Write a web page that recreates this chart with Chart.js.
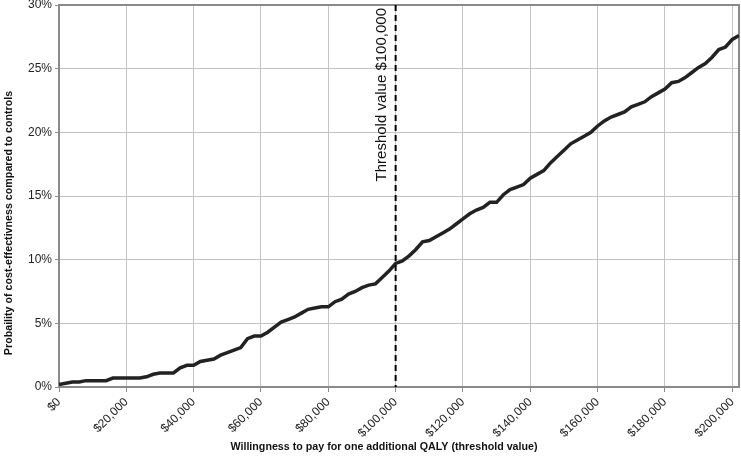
<!DOCTYPE html>
<html>
<head>
<meta charset="utf-8">
<script src="https://cdn.jsdelivr.net/npm/chart.js@4"></script>
<style>
  html, body { margin: 0; padding: 0; background: #fff; }
  #wrap { width: 741px; height: 461px; }
</style>
</head>
<body>
<div id="wrap"><canvas id="ceac"></canvas></div>
<script>
// willingness to pay, every $2,000
var wtp = [];
for (var i = 0; i <= 101; i++) wtp.push(i * 2000);

// probability cost-effective (%)
var probCE = [
  0.2, 0.3, 0.4, 0.4, 0.5, 0.5, 0.5, 0.5, 0.7, 0.7,
  0.7, 0.7, 0.7, 0.8, 1.0, 1.1, 1.1, 1.1, 1.5, 1.7,
  1.7, 2.0, 2.1, 2.2, 2.5, 2.7, 2.9, 3.1, 3.8, 4.0,
  4.0, 4.3, 4.7, 5.1, 5.3, 5.5, 5.8, 6.1, 6.2, 6.3,
  6.3, 6.7, 6.9, 7.3, 7.5, 7.8, 8.0, 8.1, 8.6, 9.1,
  9.7, 9.9, 10.3, 10.8, 11.4, 11.5, 11.8, 12.1, 12.4, 12.8,
  13.2, 13.6, 13.9, 14.1, 14.5, 14.5, 15.1, 15.5, 15.7, 15.9,
  16.4, 16.7, 17.0, 17.6, 18.1, 18.6, 19.1, 19.4, 19.7, 20.0,
  20.5, 20.9, 21.2, 21.4, 21.6, 22.0, 22.2, 22.4, 22.8, 23.1,
  23.4, 23.9, 24.0, 24.3, 24.7, 25.1, 25.4, 25.9, 26.5, 26.7,
  27.3, 27.6
];

// tick positions
var xTicks = [0, 20000, 40000, 60000, 80000, 100000, 120000, 140000, 160000, 180000, 200000];
var yTicks = [0, 5, 10, 15, 20, 25, 30];

var thresholdValue = 100000;
var thresholdLabel = 'Threshold value $100,000';
var xTitle = 'Willingness to pay for one additional QALY (threshold value)';
var yTitle = 'Probaility of cost-effectivness compared to controls';

var FONT = "Arial, 'Liberation Sans', sans-serif";

var points = wtp.map(function (x, i) { return { x: x, y: probCE[i] }; });

// frame, dashed threshold line with its label, axis titles
var thresholdPlugin = {
  id: 'threshold',
  beforeDatasetsDraw: function (chart) {
    var ctx = chart.ctx;
    var a = chart.chartArea;
    ctx.save();
    ctx.strokeStyle = '#8a8a8a';
    ctx.lineWidth = 2;
    ctx.strokeRect(a.left, a.top, a.right - a.left, a.bottom - a.top);
    ctx.restore();
  },
  afterDatasetsDraw: function (chart) {
    var ctx = chart.ctx;
    var a = chart.chartArea;
    var x = chart.scales.x.getPixelForValue(thresholdValue);
    ctx.save();
    ctx.strokeStyle = '#000';
    ctx.lineWidth = 2;
    ctx.setLineDash([6, 4]);
    ctx.beginPath();
    ctx.moveTo(x, a.top);
    ctx.lineTo(x, a.bottom);
    ctx.stroke();
    ctx.setLineDash([]);

    ctx.translate(x - 10, a.top + 3);
    ctx.rotate(-Math.PI / 2);
    ctx.fillStyle = '#111';
    ctx.font = '15px ' + FONT;
    ctx.textAlign = 'right';
    ctx.textBaseline = 'bottom';
    ctx.fillText(thresholdLabel, 0, 4);
    ctx.restore();

    // axis titles
    ctx.save();
    ctx.fillStyle = '#111';
    ctx.font = 'bold 10.7px ' + FONT;
    ctx.textAlign = 'center';
    ctx.textBaseline = 'middle';
    ctx.fillText(xTitle, 384, 447);
    ctx.translate(9, 223);
    ctx.rotate(-Math.PI / 2);
    ctx.fillText(yTitle, 0, 0);
    ctx.restore();
  }
};

new Chart(document.getElementById('ceac'), {
  type: 'line',
  data: {
    datasets: [{
      data: points,
      borderColor: '#222',
      borderWidth: 3.5,
      pointRadius: 0,
      tension: 0,
      fill: false
    }]
  },
  options: {
    responsive: true,
    maintainAspectRatio: false,
    animation: false,
    layout: { padding: { top: 5, right: 2, left: 0, bottom: 0 } },
    plugins: { legend: { display: false }, tooltip: { enabled: false } },
    scales: {
      x: {
        type: 'linear',
        min: 0,
        max: 202000,
        afterBuildTicks: function (s) {
          s.ticks = xTicks.map(function (v) { return { value: v }; });
        },
        afterFit: function (s) {
          s.height = 74;
          s.paddingLeft = 0;
          s.paddingRight = 0;
        },
        grid: { color: '#c4c4c4', lineWidth: 1, tickLength: 5, tickColor: '#8a8a8a' },
        border: { display: false },
        ticks: {
          minRotation: 45,
          maxRotation: 45,
          color: '#222',
          font: { family: FONT, size: 12 },
          callback: function (v) { return '$' + v.toLocaleString('en-US'); }
        }
      },
      y: {
        min: 0,
        max: 30,
        afterBuildTicks: function (s) {
          s.ticks = yTicks.map(function (v) { return { value: v }; });
        },
        afterFit: function (s) {
          s.width = 59;
          s.paddingTop = 0;
          s.paddingBottom = 0;
        },
        grid: { color: '#c4c4c4', lineWidth: 1, tickLength: 4, tickColor: '#8a8a8a' },
        border: { display: false },
        ticks: {
          padding: 3,
          color: '#222',
          font: { family: FONT, size: 12 },
          callback: function (v) { return v + '%'; }
        }
      }
    }
  },
  plugins: [thresholdPlugin]
});
</script>
</body>
</html>
